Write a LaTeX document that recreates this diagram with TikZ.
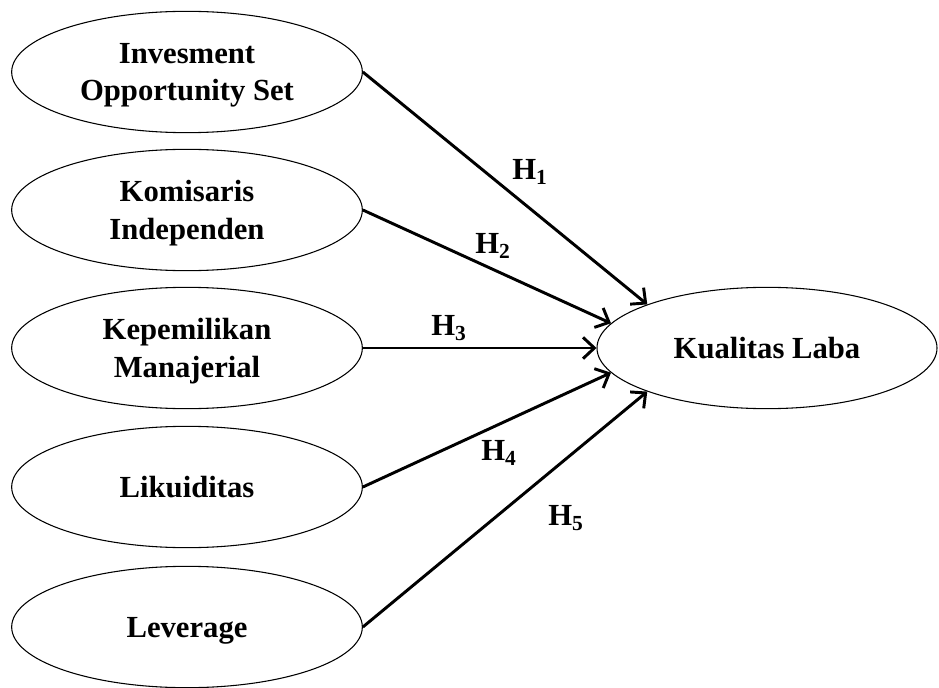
\documentclass[tikz,border=0pt]{standalone}
\usepackage{fontspec}
\setmainfont{Liberation Serif}
\usetikzlibrary{shapes.geometric,arrows.meta}

\begin{document}
\begin{tikzpicture}[x=0.75pt, y=-0.75pt,
  var/.style={draw, ellipse, line width=0.8pt, minimum width=263pt, minimum height=91pt, inner sep=0pt, text depth=0pt, align=center, font=\fontsize{23}{28}\selectfont\bfseries},
  path/.style={line width=2.2pt, -{Straight Barb[length=8.5pt, width=16pt, line width=2.2pt]}},
  hyp/.style={font=\fontsize{23}{26}\selectfont\bfseries}]
    \useasboundingbox (0,0) rectangle (939,688);

    % Variables
    \node[var] (ios) at (187,72) {Invesment\\Opportunity Set};
    \node[var] (ki) at (187,210) {Komisaris\\Independen};
    \node[var] (km) at (187,348) {Kepemilikan\\Manajerial};
    \node[var] (lik) at (187,487) {Likuiditas};
    \node[var] (lev) at (187,627) {Leverage};
    \node[var, minimum width=255pt] (kl) at (767,348) {Kualitas Laba};

    % Paths
    \draw[path] (ios.east) -- (kl.160);
    \draw[path] (ki.east) -- (kl.171);
    \draw[path] (km.east) -- (kl.west);
    \draw[path] (lik.east) -- (kl.189);
    \draw[path] (lev.east) -- (kl.200);

    % Hypotheses
    \node[hyp] (h1) at (530,172) {H\textsubscript{1}};
    \node[hyp] (h2) at (493,246) {H\textsubscript{2}};
    \node[hyp] (h3) at (449,328) {H\textsubscript{3}};
    \node[hyp] (h4) at (499,453) {H\textsubscript{4}};
    \node[hyp] (h5) at (566,518) {H\textsubscript{5}};
\end{tikzpicture}
\end{document}
